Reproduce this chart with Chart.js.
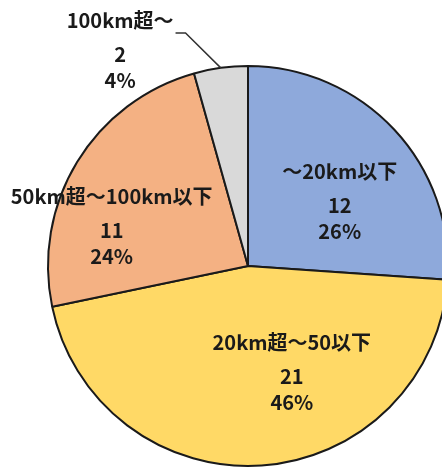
<!DOCTYPE html>
<html lang="ja">
<head>
<meta charset="utf-8">
<script src="https://cdn.jsdelivr.net/npm/chart.js@4"></script>
<style>
  html, body { margin: 0; padding: 0; background: #ffffff; overflow: hidden; }
  #wrap { position: absolute; left: 0; top: 0; width: 496px; height: 469px; }
</style>
</head>
<body>
<div id="wrap"><canvas id="pie" width="496" height="469"></canvas></div>
<script>
// Distance categories and the number of cases in each
const categories = ['～20km以下', '20km超～50以下', '50km超～100km以下', '100km超～'];
const counts = [12, 21, 11, 2];
const sliceColors = ['#8EA9DB', '#FFD966', '#F4B183', '#D9D9D9'];

// Where each label block sits: distance as a fraction of the radius,
// angle in degrees clockwise from 12 o'clock
const labelPlacement = [
  { r: 0.55, deg: 56.5 },
  { r: 0.595, deg: 158.4 },
  { r: 0.705, deg: 284.8 },
  { r: 1.234, deg: 328.8, leader: true }
];

const FONT = 'bold 20px "Noto Sans CJK JP", "Noto Sans", sans-serif';

const pieLabels = {
  id: 'pieLabels',
  afterDatasetsDraw(chart) {
    const ctx = chart.ctx;
    const meta = chart.getDatasetMeta(0);
    const values = chart.data.datasets[0].data;
    const total = values.reduce((a, b) => a + b, 0);
    ctx.save();
    ctx.font = FONT;
    ctx.fillStyle = '#1a1a1a';
    ctx.textAlign = 'center';
    ctx.textBaseline = 'middle';
    meta.data.forEach((arc, i) => {
      const p = arc.getProps(['x', 'y', 'startAngle', 'endAngle', 'outerRadius'], true);
      const place = labelPlacement[i];
      const a = place.deg * Math.PI / 180 - Math.PI / 2;
      const cx = p.x + Math.cos(a) * p.outerRadius * place.r;
      const cy = p.y + Math.sin(a) * p.outerRadius * place.r;
      const pct = Math.round(values[i] / total * 100) + '%';
      const firstY = cy - 34;
      ctx.fillText(chart.data.labels[i], cx, firstY);
      ctx.fillText(String(values[i]), cx, cy);
      ctx.fillText(pct, cx, cy + 26);
      if (place.leader) {
        const w = ctx.measureText(chart.data.labels[i]).width;
        const mid = (p.startAngle + p.endAngle) / 2;
        const ex = p.x + Math.cos(mid) * p.outerRadius;
        const ey = p.y + Math.sin(mid) * p.outerRadius;
        const lx = cx + w / 2 + 2;
        const ly = firstY + 12;
        ctx.beginPath();
        ctx.strokeStyle = '#333333';
        ctx.lineWidth = 1.5;
        ctx.moveTo(lx, ly);
        ctx.lineTo(lx + 10, ly);
        ctx.lineTo(ex, ey);
        ctx.stroke();
      }
    });
    ctx.restore();
  }
};

new Chart(document.getElementById('pie'), {
  type: 'pie',
  data: {
    labels: categories,
    datasets: [{
      data: counts,
      backgroundColor: sliceColors,
      borderColor: '#1a1a1a',
      borderWidth: 2
    }]
  },
  options: {
    responsive: false,
    animation: false,
    layout: { padding: { left: 47, right: 47, top: 65, bottom: 2 } },
    plugins: {
      legend: { display: false },
      tooltip: { enabled: false }
    }
  },
  plugins: [pieLabels]
});
</script>
</body>
</html>
